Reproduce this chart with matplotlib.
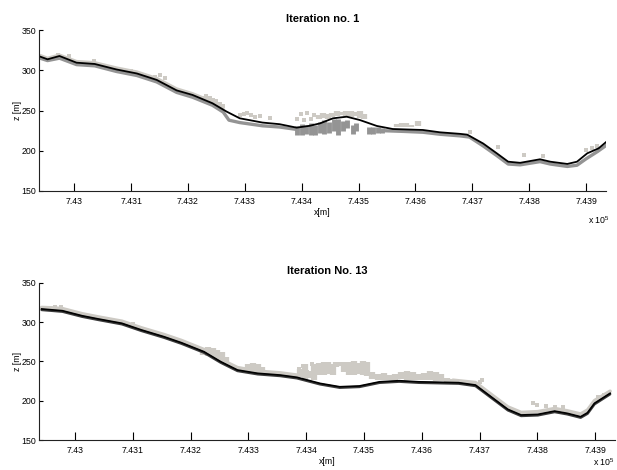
import matplotlib.pyplot as plt

plt.rcParams['font.family'] = ['Liberation Sans Narrow', 'Liberation Sans', 'DejaVu Sans']
plt.rcParams['mathtext.default'] = 'regular'

# ---- shared axis settings ----
xticks = [743000, 743100, 743200, 743300, 743400, 743500, 743600, 743700, 743800, 743900]
xtick_labels = ['7.43', '7.431', '7.432', '7.433', '7.434', '7.435', '7.436', '7.437', '7.438', '7.439']
yticks = [150, 200, 250, 300, 350]

# ---- Iteration no. 1 ----
# fitted surface
t_line_x = [742937, 742953, 742974, 743004, 743036, 743074, 743110, 743145, 743180, 743208,
            743243, 743268, 743291, 743331, 743361, 743391, 743414, 743432, 743455, 743479,
            743502, 743532, 743560, 743613, 743643, 743678, 743691, 743719, 743743, 743763,
            743784, 743819, 743837, 743867, 743884, 743902, 743922, 743936]
t_line_z = [317.7, 313.6, 317.7, 309.4, 307.8, 301.0, 296.0, 288.0, 275.0, 269.3,
            259.0, 248.6, 240.3, 235.0, 233.0, 228.7, 231.0, 234.0, 240.3, 242.3,
            238.2, 230.8, 227.0, 225.8, 222.9, 221.0, 220.0, 209.0, 196.8, 186.4,
            185.0, 189.4, 186.4, 183.6, 186.4, 196.8, 203.0, 211.3]

# points below / on the surface (dark gray)
t_dark1_x = [742940, 742953, 742974, 743004, 743036, 743074, 743110, 743145, 743180, 743208,
             743243, 743262, 743272, 743291, 743331, 743361, 743391]
t_dark1_z = [315, 312, 315, 307, 305.5, 298.5, 293.5, 285.5, 272.5, 266.5,
             256.5, 248, 238, 235, 231, 229.5, 226.5]
t_dark2_x = [743540, 743580, 743613, 743643, 743678, 743695, 743719, 743743, 743763, 743784,
             743819, 743837, 743867, 743884, 743900, 743920, 743936]
t_dark2_z = [225, 224, 223, 220.5, 218.5, 217, 206, 194, 183.5, 182.5,
             186.5, 183.5, 180.5, 182, 190, 199, 207]
t_dark_col_x = [743392, 743400, 743408, 743416, 743424, 743432, 743440, 743448, 743456, 743464,
                743472, 743480, 743490, 743496, 743518, 743526, 743534, 743542]
t_dark_col_lo = [220, 219, 221, 220, 219, 222, 221, 222, 224, 220, 224, 228, 221, 224, 221, 221, 222, 222]
t_dark_col_hi = [231, 233, 232, 234, 232, 236, 238, 236, 239, 240, 237, 238, 232, 235, 229, 230, 229, 228]

# points above the surface (light gray)
t_light_x = [742940, 742953, 742974, 743004, 743036, 743074, 743110, 743145, 743180, 743208,
             743243, 743262]
t_light_z = [318.5, 315, 319, 311, 309.5, 303, 298, 290, 277, 271, 261, 253]
t_light_col_x = [743430, 743438, 743446, 743454, 743462, 743470, 743478, 743486, 743494, 743502,
                 743510, 743568, 743576, 743584, 743592, 743604]
t_light_col_lo = [239, 241, 240, 242, 243, 244, 243, 242, 243, 241, 239, 229, 229, 230, 229, 231]
t_light_col_hi = [245, 247, 246, 247, 249, 248, 249, 250, 248, 249, 246, 233, 235, 234, 232, 237]
t_light_dot_x = [742972, 742990, 743035, 743100, 743142, 743150, 743160,
                 743226, 743232, 743238, 743244, 743250, 743256, 743262,
                 743292, 743298, 743304, 743310, 743318, 743326, 743345,
                 743392, 743398, 743404, 743410, 743416, 743422,
                 743696, 743745, 743790, 743825, 743900, 743910, 743920]
t_light_dot_z = [319, 318, 311, 299, 292, 294, 290,
                 266, 268, 265, 263, 262, 258, 255,
                 244, 246, 247, 245, 242, 243, 241,
                 240, 246, 238, 247, 240, 244,
                 223.5, 205, 195, 193, 201, 204, 206]

# ---- Iteration No. 13 ----
b_line_x = [742942, 742978, 743012, 743041, 743081, 743115, 743154, 743184, 743223, 743252,
            743281, 743316, 743355, 743384, 743424, 743458, 743492, 743527, 743561, 743595,
            743664, 743693, 743720, 743749, 743772, 743801, 743830, 743852, 743875, 743887,
            743899, 743926]
b_line_z = [316.6, 314.4, 308.0, 303.8, 298.4, 289.9, 281.3, 273.7, 262.3, 249.6,
            239.0, 234.8, 232.6, 229.7, 222.0, 217.7, 218.7, 224.0, 225.4, 224.0,
            222.9, 219.9, 205.0, 189.0, 181.8, 182.6, 186.8, 183.9, 179.6, 184.7,
            196.7, 209.4]

# ground points (near black)
b_dark_x = [742942, 742978, 743012, 743041, 743081, 743115, 743154, 743184, 743223, 743252,
            743281, 743316, 743355, 743384, 743424, 743458, 743492, 743527, 743561, 743595,
            743664, 743693, 743720, 743749, 743772, 743801, 743830, 743852, 743875, 743887,
            743899, 743926]
b_dark_z = [315.4, 313.2, 306.8, 302.6, 297.2, 288.7, 280.1, 272.5, 261.1, 248.4,
            237.8, 233.6, 231.4, 228.5, 220.8, 216.5, 217.5, 222.8, 224.2, 222.8,
            221.7, 218.7, 203.8, 187.8, 180.6, 181.4, 185.6, 182.7, 178.4, 183.5,
            195.5, 208.2]

# all measured points (light gray)
b_light1_x = [742942, 742960, 742978, 743012, 743041, 743081, 743115, 743154, 743184, 743223,
              743252, 743281, 743316, 743355, 743384]
b_light1_z = [318.5, 318, 317, 310.5, 306.3, 301, 292.5, 284, 276.5, 265,
              252.5, 242, 237.5, 235.3, 232.5]
b_light2_x = [743654, 743693, 743720, 743749, 743772, 743801, 743830, 743852, 743875, 743887,
              743899, 743926]
b_light2_z = [226, 223, 208, 192, 185, 186, 190, 187, 183, 188, 200, 212]
b_light_col_x = [743222, 743230, 743238, 743246, 743254, 743262, 743300, 743308, 743316, 743324,
                 743390, 743398, 743406, 743414, 743422, 743430, 743438, 743446, 743452, 743458,
                 743466, 743474, 743482, 743490, 743498, 743506, 743514, 743524, 743534, 743544,
                 743554, 743564, 743574, 743584, 743594, 743604, 743614, 743624, 743634, 743644,
                 743654]
b_light_col_lo = [258, 257, 255, 253, 251, 248, 239, 238, 239, 238,
                  230, 227, 229, 226, 233, 233, 234, 233, 243, 244,
                  236, 233, 233, 234, 233, 232, 227, 226, 226, 226,
                  226, 227, 226, 226, 226, 226, 226, 225, 225, 224,
                  224]
b_light_col_hi = [266, 268, 267, 264, 262, 256, 246, 248, 247, 243,
                  240, 246, 238, 247, 248, 249, 249, 247, 249, 249,
                  249, 249, 250, 248, 250, 249, 236, 234, 235, 233,
                  234, 237, 238, 236, 234, 235, 238, 237, 234, 229,
                  228]
b_light_dot_x = [742965, 742975, 743100, 743388, 743394, 743402, 743410, 743418,
                 743700, 743705, 743792, 743800, 743815, 743830, 743845, 743905, 743915]
b_light_dot_z = [319, 318.5, 298, 240, 244, 236, 246, 241,
                 224, 226, 197, 195, 193, 192, 192, 205, 207]

LIGHT = '#cdcac4'
DARK_TOP = '#949494'
DARK_BOT = '#3a3a3a'


def style_axes(ax, title, h_px):
    ax.set_xlim(742938, 743935)
    ax.set_ylim(150, 350)
    ax.set_xticks(xticks)
    ax.set_xticklabels(xtick_labels)
    ax.set_yticks(yticks)
    ax.spines['top'].set_visible(False)
    ax.spines['right'].set_visible(False)
    for s in ['left', 'bottom']:
        ax.spines[s].set_linewidth(0.8)
        ax.spines[s].set_color('#222222')
    ax.tick_params(axis='x', direction='in', length=6, width=0.8, pad=4, labelsize=6.3)
    ax.tick_params(axis='y', direction='in', length=3, width=0.8, pad=2, labelsize=6.3)
    ax.set_title(title, fontsize=8, fontweight='bold', pad=6)
    ax.set_xlabel('x[m]', fontsize=6.3)
    ax.xaxis.set_label_coords(0.5, -17 / h_px)
    ax.set_ylabel('z [m]', fontsize=6.3)
    ax.yaxis.set_label_coords(-0.03, 0.5)


fig = plt.figure(figsize=(6.17, 4.70), dpi=100)

ax1 = fig.add_axes([39 / 617, 1 - 191 / 470, 567 / 617, 161 / 470])
ax1.plot(t_light_x, t_light_z, color=LIGHT, lw=2.2, solid_capstyle='round')
ax1.vlines(t_light_col_x, t_light_col_lo, t_light_col_hi, color=LIGHT, lw=4.5)
ax1.scatter(t_light_dot_x, t_light_dot_z, s=6, marker='s', color=LIGHT, lw=0)
ax1.plot(t_dark1_x, t_dark1_z, color=DARK_TOP, lw=2.4, solid_capstyle='round')
ax1.plot(t_dark2_x, t_dark2_z, color=DARK_TOP, lw=2.4, solid_capstyle='round')
ax1.vlines(t_dark_col_x, t_dark_col_lo, t_dark_col_hi, color=DARK_TOP, lw=3.5)
ax1.plot(t_line_x, t_line_z, color='black', lw=1.3)
style_axes(ax1, 'Iteration no. 1', 161)
ax1.text(0.968, -29 / 161, r'x 10$^{5}$', transform=ax1.transAxes,
         fontsize=6.3, va='center', ha='left')

ax2 = fig.add_axes([39.3 / 617, 1 - 440 / 470, 576 / 617, 157.3 / 470])
ax2.plot(b_light1_x, b_light1_z, color=LIGHT, lw=2.6, solid_capstyle='round')
ax2.plot(b_light2_x, b_light2_z, color=LIGHT, lw=2.6, solid_capstyle='round')
ax2.vlines(b_light_col_x, b_light_col_lo, b_light_col_hi, color=LIGHT, lw=4.5)
ax2.scatter(b_light_dot_x, b_light_dot_z, s=6, marker='s', color=LIGHT, lw=0)
ax2.plot(b_dark_x, b_dark_z, color=DARK_BOT, lw=1.8, solid_capstyle='round')
ax2.plot(b_line_x, b_line_z, color='black', lw=1.2)
style_axes(ax2, 'Iteration No. 13', 157.3)
ax2.text(0.962, -22 / 157.3, r'x 10$^{5}$', transform=ax2.transAxes,
         fontsize=6.3, va='center', ha='left')

fig.savefig('out.png', dpi=100)
